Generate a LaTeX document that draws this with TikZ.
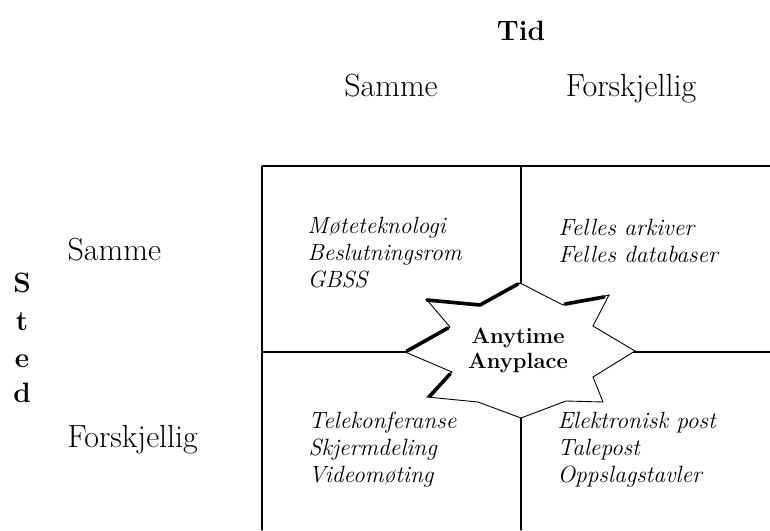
\documentclass[tikz,border=0pt]{standalone}
\usetikzlibrary{positioning}
\tikzset{
  celle/.style={font=\fontsize{23.5}{27}\selectfont\itshape, anchor=north west, align=left, inner sep=0pt},
  hode/.style={font=\fontsize{32}{36}\selectfont, anchor=base, inner sep=0pt},
  bokstav/.style={font=\fontsize{28}{30}\selectfont\bfseries, anchor=base, inner sep=0pt},
  tykk/.style={line width=3.6pt, line cap=round, line join=round}
}
\begin{document}
\begin{tikzpicture}[x=1pt, y=-1pt, line width=1.2pt, line cap=round]
      \useasboundingbox (0,0) rectangle (770,530);
      % rutenett
      \coordinate (nv) at (262,166);
      \coordinate (no) at (770,166);
      \coordinate (sv) at (262,530);
      \coordinate (mt) at (521,166);
      \coordinate (mb) at (521,530);
      \coordinate (vm) at (262,352);
      \coordinate (hm) at (770,352);
      \draw (nv) -- (no);
      \draw (nv) -- (sv);
      \draw (mt) -- (mb);
      \draw (vm) -- (hm);
      % stjerne
      \draw[line width=0.9pt, fill=white, line join=miter]
        (520,283) -- (563,305) -- (609,295) -- (593,326) -- (635,351)
        -- (593,377) -- (603,402) -- (566,401) -- (521,418) -- (478,402)
        -- (427,397) -- (452,372) -- (405,352) -- (450,327) -- (427,300)
        -- (480,305) -- cycle;
      \draw[tykk] (427,300) -- (480,305) -- (518,284);
      \draw[tykk] (407,351) -- (448,328);
      \draw[tykk] (450,374) -- (430,396);
      \draw[tykk] (565,304) -- (604,297);
      \node[font=\fontsize{22}{25}\selectfont\bfseries, align=center, anchor=north, inner sep=0pt] (aa) at (518,327) {Anytime\\Anyplace};
      % overskrifter
      \node[bokstav] (tid) at (521,40) {Tid};
      \node[hode] (ts) at (391,96) {Samme};
      \node[hode] (tf) at (631,96) {Forskjellig};
      \node[hode, anchor=base west] (ss) at (67,260) {Samme};
      \node[hode, anchor=base west] (sf) at (67,447) {Forskjellig};
      \node[bokstav] (s1) at (22,292) {S};
      \node[bokstav] (s2) at (22,330) {t};
      \node[bokstav] (s3) at (22,367) {e};
      \node[bokstav] (s4) at (22,402) {d};
      % cellene
      \node[celle] (c1) at (307,216.5) {M\o teteknologi\\Beslutningsrom\\GBSS};
      \node[celle] (c2) at (558,218.5) {Felles arkiver\\Felles databaser};
      \node[celle] (c3) at (308,411.5) {Telekonferanse\\Skjermdeling\\Videom\o ting};
      \node[celle] (c4) at (557,411.5) {Elektronisk post\\Talepost\\Oppslagstavler};
    \end{tikzpicture}
\end{document}
